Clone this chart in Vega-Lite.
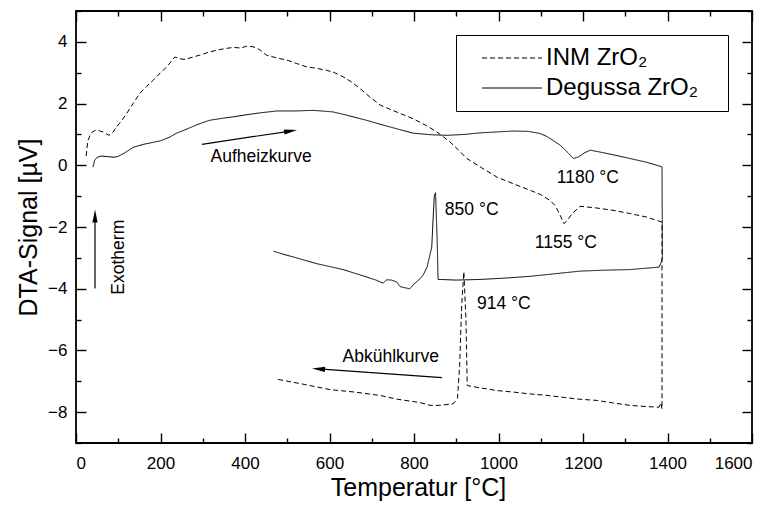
{
  "$schema": "https://vega.github.io/schema/vega-lite/v6.json",
  "width": 676,
  "height": 432,
  "autosize": {"type": "none"},
  "padding": {"left": 76, "top": 11, "right": 20, "bottom": 66},
  "background": "white",
  "config": {
    "font": "Liberation Sans",
    "view": {"stroke": "black", "strokeWidth": 1.8},
    "axis": {
      "labelFont": "Liberation Sans",
      "titleFont": "Liberation Sans",
      "labelColor": "black",
      "titleColor": "black",
      "tickColor": "black",
      "tickWidth": 1.4,
      "labelFontSize": 17,
      "titleFontSize": 25,
      "titleFontWeight": "normal",
      "domain": false,
      "grid": false
    }
  },
  "datasets": {
    "curves": [
      {"s": "INM ZrO₂", "i": 1, "T": 24, "V": 0.3},
      {"s": "INM ZrO₂", "i": 2, "T": 28, "V": 0.8},
      {"s": "INM ZrO₂", "i": 3, "T": 36, "V": 1.05},
      {"s": "INM ZrO₂", "i": 4, "T": 45, "V": 1.13},
      {"s": "INM ZrO₂", "i": 5, "T": 55, "V": 1.12},
      {"s": "INM ZrO₂", "i": 6, "T": 64, "V": 1.08},
      {"s": "INM ZrO₂", "i": 7, "T": 72, "V": 1.02},
      {"s": "INM ZrO₂", "i": 8, "T": 78, "V": 0.97},
      {"s": "INM ZrO₂", "i": 9, "T": 88, "V": 1.08},
      {"s": "INM ZrO₂", "i": 10, "T": 96, "V": 1.24},
      {"s": "INM ZrO₂", "i": 11, "T": 108, "V": 1.45},
      {"s": "INM ZrO₂", "i": 12, "T": 120, "V": 1.68},
      {"s": "INM ZrO₂", "i": 13, "T": 135, "V": 2.0},
      {"s": "INM ZrO₂", "i": 14, "T": 151, "V": 2.33},
      {"s": "INM ZrO₂", "i": 15, "T": 167, "V": 2.56},
      {"s": "INM ZrO₂", "i": 16, "T": 183, "V": 2.76},
      {"s": "INM ZrO₂", "i": 17, "T": 200, "V": 3.0},
      {"s": "INM ZrO₂", "i": 18, "T": 215, "V": 3.19},
      {"s": "INM ZrO₂", "i": 19, "T": 226, "V": 3.38},
      {"s": "INM ZrO₂", "i": 20, "T": 234, "V": 3.51},
      {"s": "INM ZrO₂", "i": 21, "T": 246, "V": 3.45},
      {"s": "INM ZrO₂", "i": 22, "T": 258, "V": 3.43},
      {"s": "INM ZrO₂", "i": 23, "T": 275, "V": 3.5},
      {"s": "INM ZrO₂", "i": 24, "T": 293, "V": 3.57},
      {"s": "INM ZrO₂", "i": 25, "T": 313, "V": 3.66},
      {"s": "INM ZrO₂", "i": 26, "T": 333, "V": 3.73},
      {"s": "INM ZrO₂", "i": 27, "T": 352, "V": 3.78},
      {"s": "INM ZrO₂", "i": 28, "T": 372, "V": 3.82},
      {"s": "INM ZrO₂", "i": 29, "T": 390, "V": 3.8},
      {"s": "INM ZrO₂", "i": 30, "T": 404, "V": 3.86},
      {"s": "INM ZrO₂", "i": 31, "T": 419, "V": 3.84},
      {"s": "INM ZrO₂", "i": 32, "T": 428, "V": 3.8},
      {"s": "INM ZrO₂", "i": 33, "T": 436, "V": 3.73},
      {"s": "INM ZrO₂", "i": 34, "T": 451, "V": 3.57},
      {"s": "INM ZrO₂", "i": 35, "T": 475, "V": 3.48},
      {"s": "INM ZrO₂", "i": 36, "T": 499, "V": 3.41},
      {"s": "INM ZrO₂", "i": 37, "T": 522, "V": 3.3},
      {"s": "INM ZrO₂", "i": 38, "T": 546, "V": 3.19},
      {"s": "INM ZrO₂", "i": 39, "T": 570, "V": 3.14},
      {"s": "INM ZrO₂", "i": 40, "T": 593, "V": 3.08},
      {"s": "INM ZrO₂", "i": 41, "T": 612, "V": 3.0},
      {"s": "INM ZrO₂", "i": 42, "T": 632, "V": 2.87},
      {"s": "INM ZrO₂", "i": 43, "T": 652, "V": 2.7},
      {"s": "INM ZrO₂", "i": 44, "T": 672, "V": 2.49},
      {"s": "INM ZrO₂", "i": 45, "T": 695, "V": 2.22},
      {"s": "INM ZrO₂", "i": 46, "T": 720, "V": 1.95},
      {"s": "INM ZrO₂", "i": 47, "T": 760, "V": 1.72},
      {"s": "INM ZrO₂", "i": 48, "T": 798, "V": 1.51},
      {"s": "INM ZrO₂", "i": 49, "T": 830, "V": 1.28},
      {"s": "INM ZrO₂", "i": 50, "T": 854, "V": 1.08},
      {"s": "INM ZrO₂", "i": 51, "T": 885, "V": 0.76},
      {"s": "INM ZrO₂", "i": 52, "T": 905, "V": 0.5},
      {"s": "INM ZrO₂", "i": 53, "T": 925, "V": 0.22},
      {"s": "INM ZrO₂", "i": 54, "T": 960, "V": -0.08},
      {"s": "INM ZrO₂", "i": 55, "T": 996, "V": -0.38},
      {"s": "INM ZrO₂", "i": 56, "T": 1035, "V": -0.6},
      {"s": "INM ZrO₂", "i": 57, "T": 1075, "V": -0.81},
      {"s": "INM ZrO₂", "i": 58, "T": 1100, "V": -0.95},
      {"s": "INM ZrO₂", "i": 59, "T": 1122, "V": -1.14},
      {"s": "INM ZrO₂", "i": 60, "T": 1135, "V": -1.32},
      {"s": "INM ZrO₂", "i": 61, "T": 1146, "V": -1.62},
      {"s": "INM ZrO₂", "i": 62, "T": 1155, "V": -1.89},
      {"s": "INM ZrO₂", "i": 63, "T": 1162, "V": -1.8},
      {"s": "INM ZrO₂", "i": 64, "T": 1174, "V": -1.57},
      {"s": "INM ZrO₂", "i": 65, "T": 1193, "V": -1.33},
      {"s": "INM ZrO₂", "i": 66, "T": 1230, "V": -1.38},
      {"s": "INM ZrO₂", "i": 67, "T": 1271, "V": -1.46},
      {"s": "INM ZrO₂", "i": 68, "T": 1310, "V": -1.56},
      {"s": "INM ZrO₂", "i": 69, "T": 1351, "V": -1.68},
      {"s": "INM ZrO₂", "i": 70, "T": 1387, "V": -1.84},
      {"s": "INM ZrO₂", "i": 71, "T": 1387, "V": -7.9},
      {"s": "INM ZrO₂", "i": 72, "T": 1384, "V": -7.7},
      {"s": "INM ZrO₂", "i": 73, "T": 1380, "V": -7.84},
      {"s": "INM ZrO₂", "i": 74, "T": 1350, "V": -7.82},
      {"s": "INM ZrO₂", "i": 75, "T": 1311, "V": -7.78},
      {"s": "INM ZrO₂", "i": 76, "T": 1270, "V": -7.7},
      {"s": "INM ZrO₂", "i": 77, "T": 1233, "V": -7.62},
      {"s": "INM ZrO₂", "i": 78, "T": 1190, "V": -7.58},
      {"s": "INM ZrO₂", "i": 79, "T": 1153, "V": -7.52},
      {"s": "INM ZrO₂", "i": 80, "T": 1110, "V": -7.45},
      {"s": "INM ZrO₂", "i": 81, "T": 1075, "V": -7.41},
      {"s": "INM ZrO₂", "i": 82, "T": 1035, "V": -7.35},
      {"s": "INM ZrO₂", "i": 83, "T": 996, "V": -7.3},
      {"s": "INM ZrO₂", "i": 84, "T": 960, "V": -7.22},
      {"s": "INM ZrO₂", "i": 85, "T": 926, "V": -7.14},
      {"s": "INM ZrO₂", "i": 86, "T": 923, "V": -5.0},
      {"s": "INM ZrO₂", "i": 87, "T": 918, "V": -3.45},
      {"s": "INM ZrO₂", "i": 88, "T": 913, "V": -4.5},
      {"s": "INM ZrO₂", "i": 89, "T": 908, "V": -6.5},
      {"s": "INM ZrO₂", "i": 90, "T": 903, "V": -7.55},
      {"s": "INM ZrO₂", "i": 91, "T": 893, "V": -7.73},
      {"s": "INM ZrO₂", "i": 92, "T": 860, "V": -7.78},
      {"s": "INM ZrO₂", "i": 93, "T": 838, "V": -7.78},
      {"s": "INM ZrO₂", "i": 94, "T": 814, "V": -7.69},
      {"s": "INM ZrO₂", "i": 95, "T": 760, "V": -7.58},
      {"s": "INM ZrO₂", "i": 96, "T": 720, "V": -7.46},
      {"s": "INM ZrO₂", "i": 97, "T": 660, "V": -7.35},
      {"s": "INM ZrO₂", "i": 98, "T": 601, "V": -7.27},
      {"s": "INM ZrO₂", "i": 99, "T": 540, "V": -7.1},
      {"s": "INM ZrO₂", "i": 100, "T": 478, "V": -6.94},
      {"s": "Degussa ZrO₂", "i": 1, "T": 40, "V": -0.06},
      {"s": "Degussa ZrO₂", "i": 2, "T": 44, "V": 0.15},
      {"s": "Degussa ZrO₂", "i": 3, "T": 50, "V": 0.26},
      {"s": "Degussa ZrO₂", "i": 4, "T": 60, "V": 0.3},
      {"s": "Degussa ZrO₂", "i": 5, "T": 75, "V": 0.28},
      {"s": "Degussa ZrO₂", "i": 6, "T": 90, "V": 0.26},
      {"s": "Degussa ZrO₂", "i": 7, "T": 100, "V": 0.29},
      {"s": "Degussa ZrO₂", "i": 8, "T": 115, "V": 0.4},
      {"s": "Degussa ZrO₂", "i": 9, "T": 135, "V": 0.58},
      {"s": "Degussa ZrO₂", "i": 10, "T": 160, "V": 0.68},
      {"s": "Degussa ZrO₂", "i": 11, "T": 199, "V": 0.79},
      {"s": "Degussa ZrO₂", "i": 12, "T": 220, "V": 0.9},
      {"s": "Degussa ZrO₂", "i": 13, "T": 238, "V": 1.04},
      {"s": "Degussa ZrO₂", "i": 14, "T": 258, "V": 1.15},
      {"s": "Degussa ZrO₂", "i": 15, "T": 277, "V": 1.26},
      {"s": "Degussa ZrO₂", "i": 16, "T": 297, "V": 1.37},
      {"s": "Degussa ZrO₂", "i": 17, "T": 317, "V": 1.46},
      {"s": "Degussa ZrO₂", "i": 18, "T": 345, "V": 1.52},
      {"s": "Degussa ZrO₂", "i": 19, "T": 372, "V": 1.57},
      {"s": "Degussa ZrO₂", "i": 20, "T": 405, "V": 1.64},
      {"s": "Degussa ZrO₂", "i": 21, "T": 436, "V": 1.7},
      {"s": "Degussa ZrO₂", "i": 22, "T": 475, "V": 1.76},
      {"s": "Degussa ZrO₂", "i": 23, "T": 520, "V": 1.76},
      {"s": "Degussa ZrO₂", "i": 24, "T": 561, "V": 1.78},
      {"s": "Degussa ZrO₂", "i": 25, "T": 590, "V": 1.75},
      {"s": "Degussa ZrO₂", "i": 26, "T": 608, "V": 1.73},
      {"s": "Degussa ZrO₂", "i": 27, "T": 630, "V": 1.66},
      {"s": "Degussa ZrO₂", "i": 28, "T": 656, "V": 1.57},
      {"s": "Degussa ZrO₂", "i": 29, "T": 690, "V": 1.45},
      {"s": "Degussa ZrO₂", "i": 30, "T": 720, "V": 1.33},
      {"s": "Degussa ZrO₂", "i": 31, "T": 760, "V": 1.18},
      {"s": "Degussa ZrO₂", "i": 32, "T": 798, "V": 1.04},
      {"s": "Degussa ZrO₂", "i": 33, "T": 840, "V": 0.99},
      {"s": "Degussa ZrO₂", "i": 34, "T": 877, "V": 0.97},
      {"s": "Degussa ZrO₂", "i": 35, "T": 920, "V": 1.0},
      {"s": "Degussa ZrO₂", "i": 36, "T": 956, "V": 1.05},
      {"s": "Degussa ZrO₂", "i": 37, "T": 995, "V": 1.08},
      {"s": "Degussa ZrO₂", "i": 38, "T": 1035, "V": 1.11},
      {"s": "Degussa ZrO₂", "i": 39, "T": 1070, "V": 1.1},
      {"s": "Degussa ZrO₂", "i": 40, "T": 1098, "V": 1.03},
      {"s": "Degussa ZrO₂", "i": 41, "T": 1112, "V": 0.95},
      {"s": "Degussa ZrO₂", "i": 42, "T": 1122, "V": 0.87},
      {"s": "Degussa ZrO₂", "i": 43, "T": 1146, "V": 0.65},
      {"s": "Degussa ZrO₂", "i": 44, "T": 1165, "V": 0.4},
      {"s": "Degussa ZrO₂", "i": 45, "T": 1177, "V": 0.22},
      {"s": "Degussa ZrO₂", "i": 46, "T": 1189, "V": 0.27},
      {"s": "Degussa ZrO₂", "i": 47, "T": 1203, "V": 0.4},
      {"s": "Degussa ZrO₂", "i": 48, "T": 1217, "V": 0.49},
      {"s": "Degussa ZrO₂", "i": 49, "T": 1240, "V": 0.43},
      {"s": "Degussa ZrO₂", "i": 50, "T": 1275, "V": 0.33},
      {"s": "Degussa ZrO₂", "i": 51, "T": 1311, "V": 0.22},
      {"s": "Degussa ZrO₂", "i": 52, "T": 1350, "V": 0.1},
      {"s": "Degussa ZrO₂", "i": 53, "T": 1387, "V": -0.05},
      {"s": "Degussa ZrO₂", "i": 54, "T": 1388, "V": -3.0},
      {"s": "Degussa ZrO₂", "i": 55, "T": 1385, "V": -3.15},
      {"s": "Degussa ZrO₂", "i": 56, "T": 1380, "V": -3.3},
      {"s": "Degussa ZrO₂", "i": 57, "T": 1311, "V": -3.38},
      {"s": "Degussa ZrO₂", "i": 58, "T": 1250, "V": -3.4},
      {"s": "Degussa ZrO₂", "i": 59, "T": 1193, "V": -3.43},
      {"s": "Degussa ZrO₂", "i": 60, "T": 1130, "V": -3.52},
      {"s": "Degussa ZrO₂", "i": 61, "T": 1074, "V": -3.6},
      {"s": "Degussa ZrO₂", "i": 62, "T": 1010, "V": -3.66},
      {"s": "Degussa ZrO₂", "i": 63, "T": 956, "V": -3.7},
      {"s": "Degussa ZrO₂", "i": 64, "T": 900, "V": -3.72},
      {"s": "Degussa ZrO₂", "i": 65, "T": 862, "V": -3.7},
      {"s": "Degussa ZrO₂", "i": 66, "T": 857, "V": -3.7},
      {"s": "Degussa ZrO₂", "i": 67, "T": 855, "V": -2.5},
      {"s": "Degussa ZrO₂", "i": 68, "T": 851, "V": -0.89},
      {"s": "Degussa ZrO₂", "i": 69, "T": 848, "V": -1.0},
      {"s": "Degussa ZrO₂", "i": 70, "T": 845, "V": -1.8},
      {"s": "Degussa ZrO₂", "i": 71, "T": 842, "V": -2.65},
      {"s": "Degussa ZrO₂", "i": 72, "T": 836, "V": -3.0},
      {"s": "Degussa ZrO₂", "i": 73, "T": 831, "V": -3.3},
      {"s": "Degussa ZrO₂", "i": 74, "T": 822, "V": -3.55},
      {"s": "Degussa ZrO₂", "i": 75, "T": 814, "V": -3.68},
      {"s": "Degussa ZrO₂", "i": 76, "T": 800, "V": -3.85},
      {"s": "Degussa ZrO₂", "i": 77, "T": 790, "V": -4.0},
      {"s": "Degussa ZrO₂", "i": 78, "T": 775, "V": -3.96},
      {"s": "Degussa ZrO₂", "i": 79, "T": 767, "V": -3.93},
      {"s": "Degussa ZrO₂", "i": 80, "T": 759, "V": -3.78},
      {"s": "Degussa ZrO₂", "i": 81, "T": 747, "V": -3.72},
      {"s": "Degussa ZrO₂", "i": 82, "T": 735, "V": -3.71},
      {"s": "Degussa ZrO₂", "i": 83, "T": 727, "V": -3.82},
      {"s": "Degussa ZrO₂", "i": 84, "T": 710, "V": -3.72},
      {"s": "Degussa ZrO₂", "i": 85, "T": 688, "V": -3.62},
      {"s": "Degussa ZrO₂", "i": 86, "T": 660, "V": -3.5},
      {"s": "Degussa ZrO₂", "i": 87, "T": 632, "V": -3.38},
      {"s": "Degussa ZrO₂", "i": 88, "T": 600, "V": -3.28},
      {"s": "Degussa ZrO₂", "i": 89, "T": 570, "V": -3.19},
      {"s": "Degussa ZrO₂", "i": 90, "T": 540, "V": -3.07},
      {"s": "Degussa ZrO₂", "i": 91, "T": 514, "V": -2.97},
      {"s": "Degussa ZrO₂", "i": 92, "T": 490, "V": -2.88},
      {"s": "Degussa ZrO₂", "i": 93, "T": 467, "V": -2.78}
    ],
    "arrows": [
      {"T": 298, "V": 0.68, "T2": 508, "V2": 1.11},
      {"T": 866, "V": -6.88, "T2": 574, "V2": -6.6},
      {"T": 45, "V": -3.99, "T2": 45, "V2": -1.64}
    ],
    "heads": [
      {"T": 508, "V": 1.11, "a": 81.6},
      {"T": 574, "V": -6.6, "a": 274.4},
      {"T": 45, "V": -1.64, "a": 0}
    ],
    "notes": [
      {"t": "Aufheizkurve", "T": 438, "V": 0.26, "a": 0},
      {"t": "Abkühlkurve", "T": 745, "V": -6.2, "a": 0},
      {"t": "Exotherm", "T": 102, "V": -2.98, "a": 270}
    ],
    "peaks": [
      {"t": "850 °C", "T": 873, "V": -1.46},
      {"t": "1180 °C", "T": 1138, "V": -0.42},
      {"t": "1155 °C", "T": 1086, "V": -2.53},
      {"t": "914 °C", "T": 949, "V": -4.48}
    ]
  },
  "layer": [
    {
      "data": {"name": "curves"},
      "mark": {"type": "line", "color": "black", "strokeWidth": 1},
      "encoding": {
        "x": {
          "field": "T", "type": "quantitative",
          "scale": {"domain": [0, 1600], "nice": false, "zero": false},
          "axis": {
            "orient": "bottom",
            "title": "Temperatur [°C]",
            "values": [0, 100, 200, 300, 400, 500, 600, 700, 800, 900, 1000, 1100, 1200, 1300, 1400, 1500, 1600],
            "format": "d",
            "labelExpr": "datum.value % 200 == 0 ? datum.label : ''",
            "tickSize": {"condition": {"test": "datum.value % 200 == 0", "value": -10}, "value": -5},
            "labelPadding": 22,
            "titlePadding": 4,
            "titleX": 342
          }
        },
        "y": {
          "field": "V", "type": "quantitative",
          "scale": {"domain": [-9, 5], "nice": false, "zero": false},
          "axis": {
            "orient": "left",
            "title": "DTA-Signal [µV]",
            "values": [-9, -8, -7, -6, -5, -4, -3, -2, -1, 0, 1, 2, 3, 4, 5],
            "format": "d",
            "labelExpr": "datum.value % 2 == 0 ? datum.label : ''",
            "tickSize": {"condition": {"test": "datum.value % 2 == 0", "value": -10}, "value": -5},
            "labelPadding": 19,
            "titlePadding": 6
          }
        },
        "strokeDash": {
          "field": "s", "type": "nominal",
          "scale": {"domain": ["INM ZrO₂", "Degussa ZrO₂"], "range": [[5, 3], [1, 0]]},
          "legend": {
            "orient": "none",
            "legendX": 380,
            "legendY": 24,
            "title": " ",
            "titleOrient": "right",
            "titleFontSize": 24,
            "titlePadding": 19,
            "symbolType": "M-5,0H5",
            "symbolSize": 144,
            "symbolStrokeWidth": 1,
            "symbolStrokeColor": "black",
            "labelFont": "Liberation Sans",
            "labelFontSize": 24,
            "labelColor": "black",
            "labelOffset": 22,
            "symbolOffset": 33,
            "rowPadding": 6,
            "padding": 11,
            "strokeColor": "black",
            "fillColor": "white"
          }
        },
        "order": {"field": "i", "type": "quantitative"}
      }
    },
    {
      "data": {"name": "arrows"},
      "mark": {"type": "rule", "color": "black", "strokeWidth": 1.2},
      "encoding": {
        "x": {"field": "T", "type": "quantitative", "axis": null},
        "y": {"field": "V", "type": "quantitative", "axis": null},
        "x2": {"field": "T2"},
        "y2": {"field": "V2"}
      }
    },
    {
      "data": {"name": "heads"},
      "mark": {"type": "point", "shape": "M0,-1L0.4,1L-0.4,1Z", "filled": true, "color": "black", "opacity": 1, "size": 169},
      "encoding": {
        "x": {"field": "T", "type": "quantitative", "axis": null},
        "y": {"field": "V", "type": "quantitative", "axis": null},
        "angle": {"field": "a", "type": "quantitative", "scale": null}
      }
    },
    {
      "data": {"name": "notes"},
      "mark": {"type": "text", "font": "Liberation Sans", "fontSize": 17.5, "color": "black", "align": "center", "baseline": "middle"},
      "encoding": {
        "x": {"field": "T", "type": "quantitative", "axis": null},
        "y": {"field": "V", "type": "quantitative", "axis": null},
        "text": {"field": "t"},
        "angle": {"field": "a", "type": "quantitative", "scale": null}
      }
    },
    {
      "data": {"name": "peaks"},
      "mark": {"type": "text", "font": "Liberation Sans", "fontSize": 17.5, "color": "black", "align": "left", "baseline": "middle"},
      "encoding": {
        "x": {
          "field": "T", "type": "quantitative",
          "axis": {
            "orient": "top",
            "title": null,
            "labels": false,
            "values": [0, 100, 200, 300, 400, 500, 600, 700, 800, 900, 1000, 1100, 1200, 1300, 1400, 1500, 1600],
            "tickSize": {"condition": {"test": "datum.value % 200 == 0", "value": -10}, "value": -5}
          }
        },
        "y": {
          "field": "V", "type": "quantitative",
          "axis": {
            "orient": "right",
            "title": null,
            "labels": false,
            "values": [-9, -8, -7, -6, -5, -4, -3, -2, -1, 0, 1, 2, 3, 4, 5],
            "tickSize": {"condition": {"test": "datum.value % 2 == 0", "value": -10}, "value": -5}
          }
        },
        "text": {"field": "t"}
      }
    }
  ],
  "resolve": {"axis": {"x": "independent", "y": "independent"}}
}
